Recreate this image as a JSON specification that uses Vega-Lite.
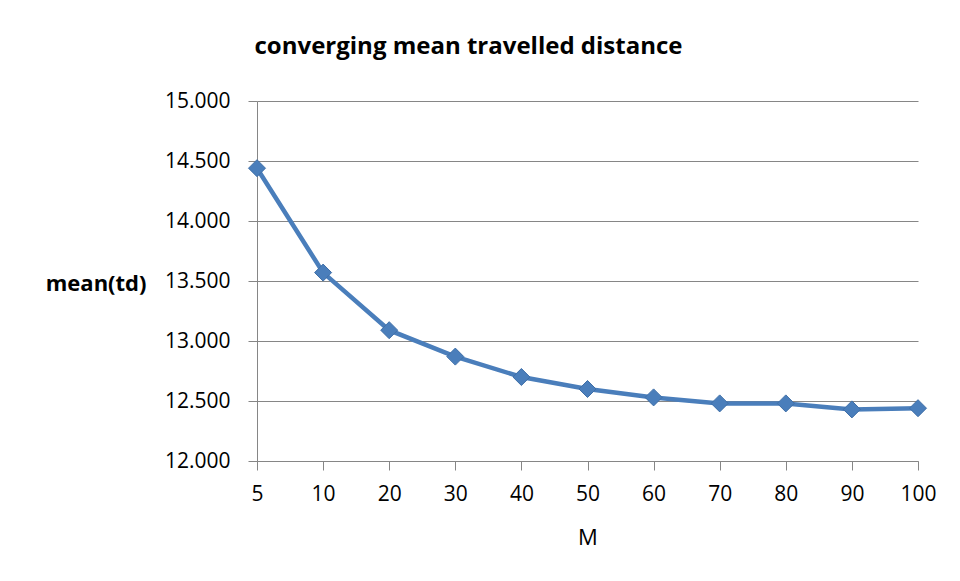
{
  "$schema": "https://vega.github.io/schema/vega-lite/v6.json",
  "autosize": {"type": "none"},
  "padding": {"left": 257, "top": 101, "right": 42, "bottom": 120},
  "width": 661,
  "height": 360,
  "background": "white",
  "title": {
    "text": "converging mean travelled distance",
    "font": "Open Sans",
    "fontSize": 24,
    "fontWeight": "bold",
    "color": "#000000",
    "anchor": "middle",
    "dx": -119,
    "baseline": "alphabetic",
    "offset": 12
  },
  "data": {
    "values": [
      {"M": 5, "td": 14.44},
      {"M": 10, "td": 13.57},
      {"M": 20, "td": 13.09},
      {"M": 30, "td": 12.87},
      {"M": 40, "td": 12.70},
      {"M": 50, "td": 12.60},
      {"M": 60, "td": 12.53},
      {"M": 70, "td": 12.48},
      {"M": 80, "td": 12.48},
      {"M": 90, "td": 12.43},
      {"M": 100, "td": 12.44}
    ]
  },
  "encoding": {
    "x": {
      "field": "M",
      "type": "ordinal",
      "sort": "ascending",
      "scale": {"type": "point", "padding": 0},
      "axis": {
        "title": "M",
        "titleFont": "Open Sans",
        "titleFontSize": 22,
        "titleFontWeight": "normal",
        "titleColor": "#000000",
        "titlePadding": 23,
        "labelAngle": 0,
        "labelFont": "Open Sans",
        "labelFontSize": 21,
        "labelColor": "#000000",
        "labelPadding": 13,
        "tickSize": 9,
        "tickColor": "#868686",
        "domainColor": "#868686",
        "grid": false
      }
    },
    "y": {
      "field": "td",
      "type": "quantitative",
      "scale": {"domain": [12, 15], "nice": false, "zero": false},
      "axis": {
        "values": [12, 12.5, 13, 13.5, 14, 14.5, 15],
        "format": ".3f",
        "title": "mean(td)",
        "titleAngle": 0,
        "titleFont": "Open Sans",
        "titleFontSize": 22,
        "titleFontWeight": "bold",
        "titleColor": "#000000",
        "titleAlign": "right",
        "titleBaseline": "middle",
        "titleX": -111,
        "titleY": 182,
        "labelFont": "Open Sans",
        "labelFontSize": 21,
        "labelColor": "#000000",
        "labelPadding": 18,
        "tickSize": 9,
        "tickColor": "#868686",
        "domainColor": "#868686",
        "gridColor": "#868686",
        "gridOpacity": 1
      }
    }
  },
  "layer": [
    {
      "mark": {"type": "line", "color": "#4a7ebb", "strokeWidth": 4.5}
    },
    {
      "mark": {"type": "point", "shape": "diamond", "size": 290, "filled": true, "color": "#4a7ebb", "opacity": 1, "stroke": "#3f6fa8", "strokeWidth": 1}
    }
  ],
  "config": {
    "view": {"stroke": null}
  }
}
